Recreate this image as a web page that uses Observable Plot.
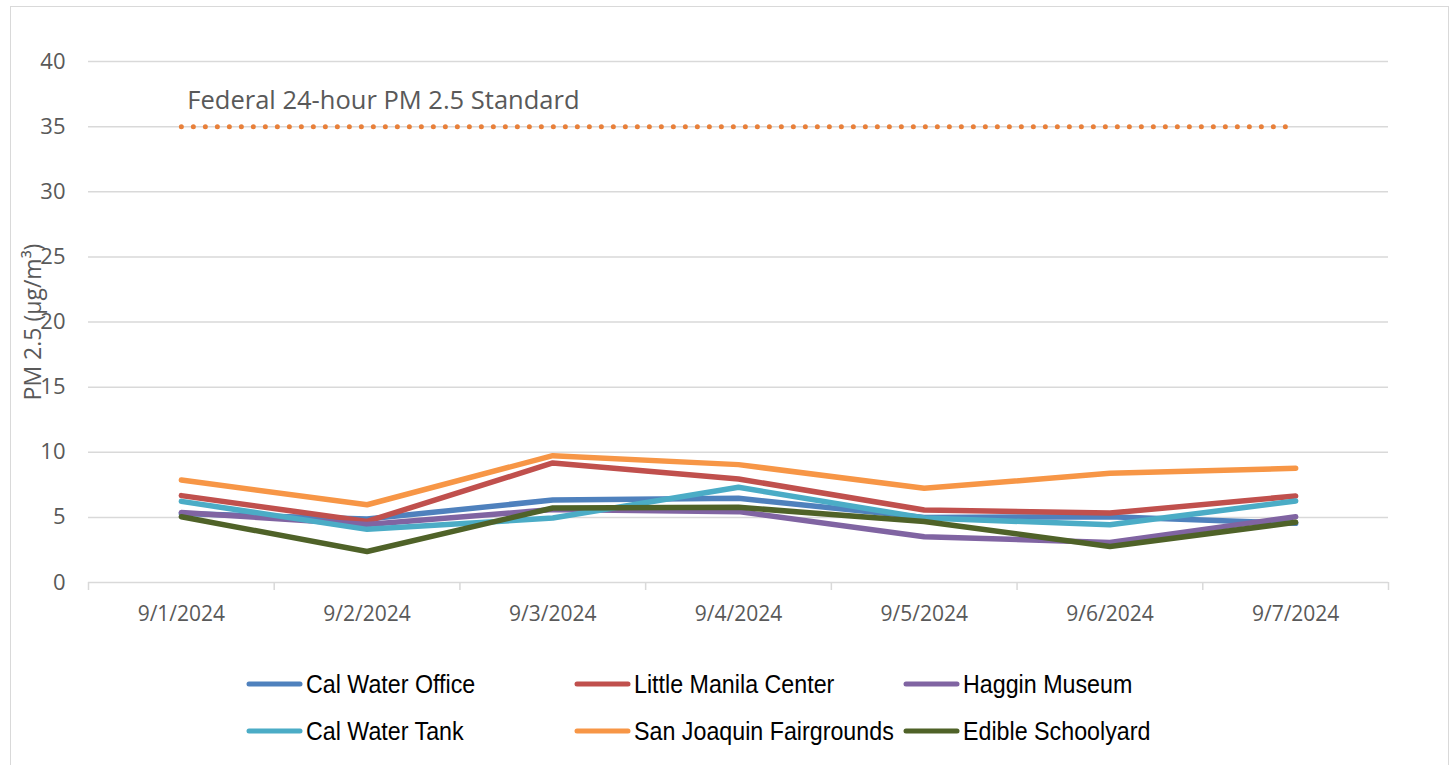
<!DOCTYPE html>
<html>
<head>
<meta charset="utf-8">
<script src="https://cdn.jsdelivr.net/npm/d3@7"></script>
<script src="https://cdn.jsdelivr.net/npm/@observablehq/plot@0.6"></script>
<style>
  html, body { margin: 0; padding: 0; background: #fff; width: 1455px; height: 765px; overflow: hidden; }
  #frame { position: absolute; left: 10px; top: 6px; width: 1439px; height: 800px; border: 1.5px solid #d9d9d9; box-sizing: border-box; }
  #chart { position: absolute; left: 0; top: 0; }
  .leg { position: absolute; display: flex; align-items: center; font-family: "Liberation Sans", sans-serif; font-size: 25px; color: #000; white-space: nowrap; }
  .leg svg { margin-right: 3px; }
  .leg span { display: inline-block; transform: scaleX(0.93); transform-origin: left center; }
</style>
</head>
<body>
<div id="frame"></div>
<div id="chart"></div>
<div id="legend"></div>
<script>
const dates = ["9/1/2024", "9/2/2024", "9/3/2024", "9/4/2024", "9/5/2024", "9/6/2024", "9/7/2024"];
const seriesNames = ["Cal Water Office", "Little Manila Center", "Haggin Museum", "Cal Water Tank", "San Joaquin Fairgrounds", "Edible Schoolyard"];
const seriesColors = ["#4f81bd", "#c0504d", "#8064a2", "#4bacc6", "#f79646", "#4f6228"];
const calWaterOffice = [5.3, 4.87, 6.33, 6.46, 5.0, 5.05, 4.54];
const littleManilaCenter = [6.67, 4.69, 9.18, 7.95, 5.56, 5.33, 6.64];
const hagginMuseum = [5.38, 4.45, 5.6, 5.44, 3.51, 3.08, 5.05];
const calWaterTank = [6.23, 4.08, 4.95, 7.31, 4.95, 4.44, 6.26];
const sanJoaquinFairgrounds = [7.87, 5.97, 9.74, 9.05, 7.23, 8.38, 8.77];
const edibleSchoolyard = [5.05, 2.38, 5.72, 5.77, 4.69, 2.77, 4.62];
const standardValue = 35;
const standardLabel = "Federal 24-hour PM 2.5 Standard";
const yTicks = [0, 5, 10, 15, 20, 25, 30, 35, 40];
const yLabel = "PM 2.5 (μg/m³)";

const allSeries = [calWaterOffice, littleManilaCenter, hagginMuseum, calWaterTank, sanJoaquinFairgrounds, edibleSchoolyard];
const rows = [];
allSeries.forEach((vals, s) => vals.forEach((v, i) => rows.push({series: seriesNames[s], idx: i + 0.5, value: v})));
const standardRows = dates.map((d, i) => ({idx: i + 0.5, value: standardValue}));

const plot = Plot.plot({
  width: 1455,
  height: 640,
  marginLeft: 88,
  marginRight: 67,
  marginTop: 61,
  marginBottom: 58,
  style: {fontFamily: "Open Sans, sans-serif", fontSize: "22px", color: "#595959", background: "transparent", overflow: "visible"},
  x: {type: "linear", domain: [0, dates.length]},
  y: {domain: [0, 40]},
  color: {domain: seriesNames, range: seriesColors},
  marks: [
    Plot.gridY(yTicks.slice(1), {stroke: "#d9d9d9", strokeOpacity: 1, strokeWidth: 1.5}),
    Plot.ruleY([0], {stroke: "#d9d9d9", strokeWidth: 1.5}),
    Plot.axisX(d3.range(dates.length + 1), {tickSize: 8, tickFormat: () => "", stroke: "#d9d9d9", strokeWidth: 1.5, label: null}),
    Plot.axisX(dates.map((d, i) => i + 0.5), {tickSize: 0, tickPadding: 24, tickFormat: v => dates[Math.round(v - 0.5)], label: null, fill: "#595959", fontSize: 21}),
    Plot.axisY(yTicks, {tickSize: 0, tickPadding: 23, label: null, fill: "#595959", fontSize: 22}),
    Plot.text([yLabel], {frameAnchor: "left", textAnchor: "middle", rotate: -90, dx: -55, fill: "#595959", fontSize: 23}),
    Plot.line(standardRows, {x: "idx", y: "value", stroke: "#e8803a", strokeWidth: 5, strokeDasharray: "0 12", strokeLinecap: "round"}),
    Plot.text([standardLabel], {x: () => 0.5, y: () => standardValue, text: d => d, textAnchor: "start", dx: 6, dy: -26, fill: "#595959", fontSize: 25.5}),
    Plot.line(rows, {x: "idx", y: "value", z: "series", stroke: "series", strokeWidth: 5.5, strokeLinecap: "round", strokeLinejoin: "round"})
  ]
});
document.getElementById("chart").appendChild(plot);

const legendPos = [[246, 684], [574, 684], [903, 684], [246, 731], [574, 731], [903, 731]];
const legend = document.getElementById("legend");
seriesNames.forEach((name, i) => {
  const div = document.createElement("div");
  div.className = "leg";
  div.style.left = legendPos[i][0] + "px";
  div.style.top = (legendPos[i][1] - 18) + "px";
  div.style.height = "36px";
  div.innerHTML = `<svg width="57" height="10"><line x1="3" y1="5" x2="54" y2="5" stroke="${seriesColors[i]}" stroke-width="5" stroke-linecap="round"/></svg><span>${name}</span>`;
  legend.appendChild(div);
});
</script>
</body>
</html>
